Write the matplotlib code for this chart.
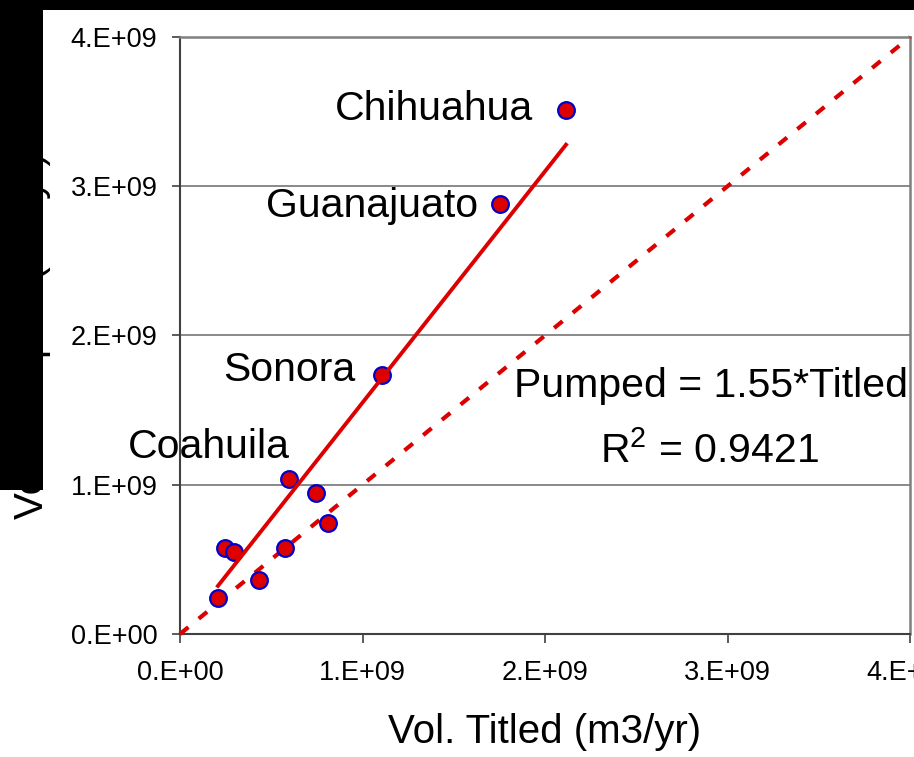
import matplotlib
matplotlib.use("Agg")
import matplotlib.pyplot as plt
from matplotlib.patches import Rectangle
import numpy as np

plt.rcParams['font.family'] = ['Liberation Sans', 'DejaVu Sans']
plt.rcParams['mathtext.fontset'] = 'custom'
plt.rcParams['mathtext.rm'] = 'Liberation Sans'
plt.rcParams['mathtext.it'] = 'Liberation Sans:italic'

# ---- data ----
titled = np.array([2.115, 1.753, 1.107, 0.597, 0.745, 0.811, 0.575, 0.247, 0.296, 0.433, 0.208]) * 1e9
pumped = np.array([3.51, 2.88, 1.735, 1.04, 0.945, 0.744, 0.576, 0.576, 0.549, 0.362, 0.241]) * 1e9
state_names = ["Chihuahua", "Guanajuato", "Sonora", "Coahuila"]
slope = 1.55
r2 = 0.9421
tick_vals = [0, 1e9, 2e9, 3e9, 4e9]
x_tick_labels = ["0.E+00", "1.E+09", "2.E+09", "3.E+09", "4.E+09"]
y_tick_labels = ["0.E+00", "1.E+09", "2.E+09", "3.E+09", "4.E+09"]

W, H = 914, 757
fig = plt.figure(figsize=(W / 100, H / 100), dpi=100)
ax = fig.add_axes([180 / W, (H - 634) / H, (910 - 180) / W, (634 - 37) / H])

red = '#dd0000'
ax.set_xlim(0, 4e9)
ax.set_ylim(0, 4e9)

# gridlines
ax.set_yticks(tick_vals)
ax.set_xticks(tick_vals)
ax.yaxis.grid(True, color='#808080', linewidth=1.3)
ax.set_axisbelow(True)

# 1:1 dashed line
ax.plot([0, 4e9], [0, 4e9], color=red, linewidth=3.0, dashes=(2.6, 3.2),
        solid_capstyle='butt', dash_capstyle='butt', clip_on=False, zorder=3)

# scatter
ax.plot(titled, pumped, linestyle='none', marker='o', markersize=12,
        markerfacecolor=red, markeredgecolor='#0000cc', markeredgewidth=1.6, zorder=4)

# trend line through origin
xt = np.array([titled.min(), titled.max()])
ax.plot(xt, slope * xt, color=red, linewidth=2.8, zorder=5)

# labels of states
offsets = [(-24, -7), (-16, -9.5), (-19, -4.5), (1, 15)]
for i, name in enumerate(state_names):
    ax.annotate(name, (titled[i], pumped[i]), xytext=offsets[i], textcoords='offset points',
                ha='right', va='baseline', fontsize=29.5, color='black', zorder=6)

# equation
ax.text(2.91e9, 1.588e9, f"Pumped = {slope:.2f}*Titled", ha='center', va='baseline',
        fontsize=29.5, color='black', zorder=6)
ax.text(2.90e9, 1.146e9, r"R$^{2}$ = " + f"{r2:.4f}", ha='center', va='baseline',
        fontsize=29.5, color='black', zorder=6)

# spines
for s in ['left', 'bottom']:
    ax.spines[s].set_color('#404040')
    ax.spines[s].set_linewidth(1.5)
for s in ['top', 'right']:
    ax.spines[s].set_color('#808080')
    ax.spines[s].set_linewidth(1.8)

ax.set_xticklabels(x_tick_labels)
ax.set_yticklabels(y_tick_labels)
ax.tick_params(axis='x', direction='out', length=6.5, width=1.2, color='#404040',
               labelsize=19.5, pad=12)
ax.tick_params(axis='y', direction='out', length=5.8, width=1.2, color='#404040',
               labelsize=19.5, pad=10.5)

xl = ax.set_xlabel("Vol. Titled (m3/yr)", fontsize=29)
ax.xaxis.set_label_coords(0.5, (634 - 743) / (634 - 37))
xl.set_va('baseline')
fig.text(32 / W, 1 - 336 / H, "Vol. Pumped (m3/yr)", rotation=90, ha='center',
         va='center', fontsize=29)

# black masking bands present in the reference image
fig.patches.append(Rectangle((0, 1 - 10 / H), 1, 10 / H, transform=fig.transFigure,
                             facecolor='black', edgecolor='none', zorder=10))
fig.patches.append(Rectangle((0, 1 - 490 / H), 43 / W, 490 / H, transform=fig.transFigure,
                             facecolor='black', edgecolor='none', zorder=10))

fig.savefig("out.png", dpi=100)
